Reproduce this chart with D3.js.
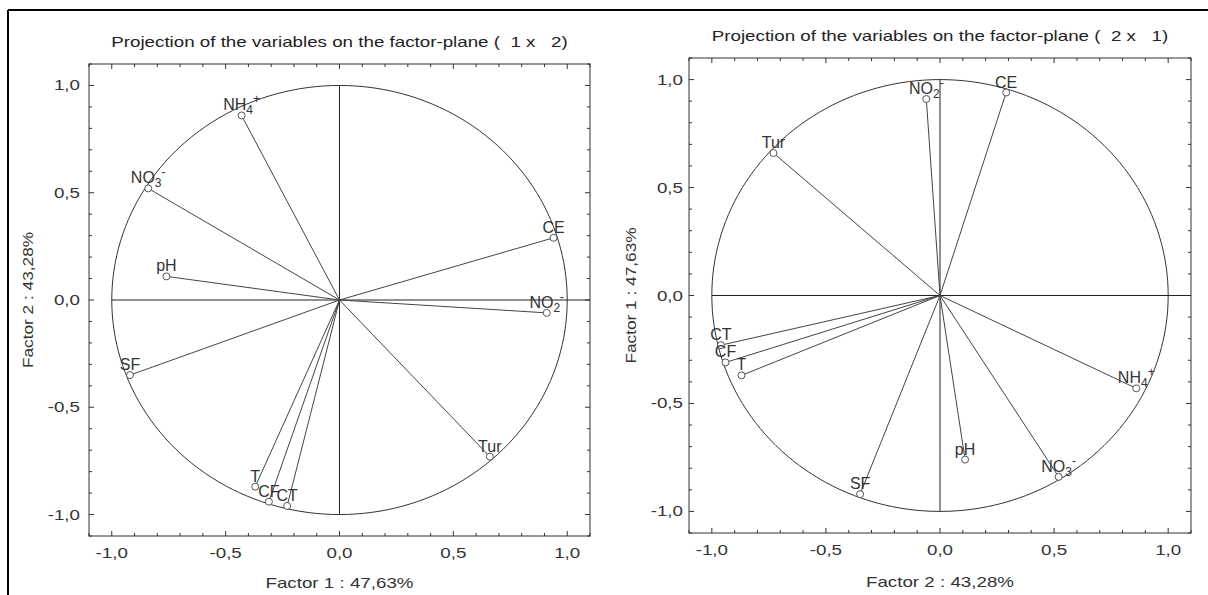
<!DOCTYPE html>
<html>
<head>
<meta charset="utf-8">
<script src="https://cdn.jsdelivr.net/npm/d3@7"></script>
<style>
  html, body { margin: 0; padding: 0; background: #fff; }
  svg { display: block; font-family: "Liberation Sans", Arial, sans-serif; }
  text { white-space: pre; }
</style>
</head>
<body>
<svg id="chart" width="1208" height="595"></svg>
<script>
// ---- Data (factor coordinates of the variables) ----
const labelBase = ["NH", "NO", "pH", "CE", "NO", "SF", "Tur", "T", "CF", "CT"];
const labelSub  = ["4",  "3",  "",   "",   "2",  "",   "",    "",  "",   ""];
const labelSup  = ["+",  "-",  "",   "",   "-",  "",   "",    "",  "",   ""];
const factor1   = [-0.43, -0.84, -0.76, 0.94, 0.91, -0.92, 0.66, -0.37, -0.31, -0.23];
const factor2   = [ 0.86,  0.52,  0.11, 0.29, -0.06, -0.35, -0.73, -0.87, -0.94, -0.96];

const majorTicks = [-1.0, -0.5, 0.0, 0.5, 1.0];
const minorTicks = d3.range(-11, 12).map(d => d / 10);
const tickFormat = d => d3.format(".1f")(d).replace(".", ",").replace("−", "-");

const panels = [
  { title: "Projection of the variables on the factor-plane (  1 x   2)",
    xName: "Factor 1 : 47,63%", yName: "Factor 2 : 43,28%",
    xs: factor1, ys: factor2,
    frame: { x0: 89, x1: 590, y0: 64, y1: 536 }, titleY: 47, yTitleX: 33, yTickGap: 9, xTitleY: 588 },
  { title: "Projection of the variables on the factor-plane (  2 x   1)",
    xName: "Factor 2 : 43,28%", yName: "Factor 1 : 47,63%",
    xs: factor2, ys: factor1,
    frame: { x0: 689, x1: 1191, y0: 58, y1: 533 }, titleY: 41, yTitleX: 636, yTickGap: 6, xTitleY: 587 }
];

const STRETCH = 1.25; // the reference text is horizontally wide
function stretch(sel, k) {
  sel.each(function () {
    const w = this.getComputedTextLength();
    d3.select(this).attr("textLength", w * k).attr("lengthAdjust", "spacingAndGlyphs");
  });
}

const svg = d3.select("#chart");

// Outer border (top and left)
svg.append("line").attr("x1", 8).attr("y1", 10).attr("x2", 1208).attr("y2", 10)
  .attr("stroke", "#000").attr("stroke-width", 2);
svg.append("line").attr("x1", 8).attr("y1", 10).attr("x2", 8).attr("y2", 595)
  .attr("stroke", "#000").attr("stroke-width", 2);

panels.forEach(p => {
  const f = p.frame;
  const x = d3.scaleLinear().domain([-1.1, 1.1]).range([f.x0, f.x1]);
  const y = d3.scaleLinear().domain([-1.1, 1.1]).range([f.y1, f.y0]);
  const g = svg.append("g");

  // Title
  g.append("text").attr("x", (f.x0 + f.x1) / 2).attr("y", p.titleY)
    .attr("text-anchor", "middle").attr("font-size", 15).attr("fill", "#222")
    .text(p.title).call(stretch, STRETCH);

  // Frame
  g.append("rect").attr("x", f.x0).attr("y", f.y0)
    .attr("width", f.x1 - f.x0).attr("height", f.y1 - f.y0)
    .attr("fill", "none").attr("stroke", "#333").attr("stroke-width", 1);

  // Ticks on all four sides (inward)
  const isMajor = v => Math.abs(v * 2 - Math.round(v * 2)) < 1e-9;
  const tg = g.append("g").attr("stroke", "#333").attr("stroke-width", 1);
  minorTicks.forEach(v => {
    const len = isMajor(v) ? 5 : 3;
    const xv = x(v), yv = y(v);
    tg.append("line").attr("x1", xv).attr("x2", xv).attr("y1", f.y1).attr("y2", f.y1 - len);
    tg.append("line").attr("x1", xv).attr("x2", xv).attr("y1", f.y0).attr("y2", f.y0 + len);
    tg.append("line").attr("y1", yv).attr("y2", yv).attr("x1", f.x0).attr("x2", f.x0 + len);
    tg.append("line").attr("y1", yv).attr("y2", yv).attr("x1", f.x1).attr("x2", f.x1 - len);
  });

  // Tick labels
  majorTicks.forEach(v => {
    g.append("text").attr("x", x(v)).attr("y", f.y1 + 22)
      .attr("text-anchor", "middle").attr("font-size", 15).attr("fill", "#333")
      .text(tickFormat(v)).call(stretch, STRETCH);
    g.append("text").attr("x", f.x0 - p.yTickGap).attr("y", y(v) + 5)
      .attr("text-anchor", "end").attr("font-size", 15).attr("fill", "#333")
      .text(tickFormat(v)).call(stretch, STRETCH);
  });

  // Axis titles
  g.append("text").attr("x", x(0)).attr("y", p.xTitleY)
    .attr("text-anchor", "middle").attr("font-size", 15).attr("fill", "#333")
    .text(p.xName).call(stretch, STRETCH);
  g.append("text").attr("transform", `translate(${p.yTitleX},${y(0)}) rotate(-90)`)
    .attr("text-anchor", "middle").attr("font-size", 15).attr("fill", "#333")
    .text(p.yName).call(stretch, 1.15);

  // Unit circle
  const circ = d3.range(0, 361, 2).map(a => [Math.cos(a * Math.PI / 180), Math.sin(a * Math.PI / 180)]);
  g.append("path").datum(circ)
    .attr("d", d3.line().x(d => x(d[0])).y(d => y(d[1])))
    .attr("fill", "none").attr("stroke", "#333").attr("stroke-width", 1);

  // Cross axes
  g.append("line").attr("x1", x(-1)).attr("x2", f.x1).attr("y1", y(0)).attr("y2", y(0))
    .attr("stroke", "#222").attr("stroke-width", 1);
  g.append("line").attr("x1", x(0)).attr("x2", x(0)).attr("y1", y(1)).attr("y2", y(-1))
    .attr("stroke", "#222").attr("stroke-width", 1);

  // Vectors
  const idx = d3.range(labelBase.length);
  g.selectAll("line.vec").data(idx).join("line").attr("class", "vec")
    .attr("x1", x(0)).attr("y1", y(0))
    .attr("x2", i => x(p.xs[i])).attr("y2", i => y(p.ys[i]))
    .attr("stroke", "#444").attr("stroke-width", 1);

  g.selectAll("circle.pt").data(idx).join("circle").attr("class", "pt")
    .attr("cx", i => x(p.xs[i])).attr("cy", i => y(p.ys[i])).attr("r", 3.5)
    .attr("fill", "#fff").attr("stroke", "#555").attr("stroke-width", 1);

  // Labels
  idx.forEach(i => {
    const t = g.append("text")
      .attr("x", x(p.xs[i])).attr("y", y(p.ys[i]) - 5)
      .attr("text-anchor", "middle").attr("font-size", 16).attr("fill", "#333");
    t.append("tspan").text(labelBase[i]);
    if (labelSub[i]) t.append("tspan").attr("font-size", 12).attr("dy", 4).text(labelSub[i]);
    if (labelSup[i]) t.append("tspan").attr("font-size", 12).attr("dy", -11).text(labelSup[i]);
  });
});
</script>
</body>
</html>
